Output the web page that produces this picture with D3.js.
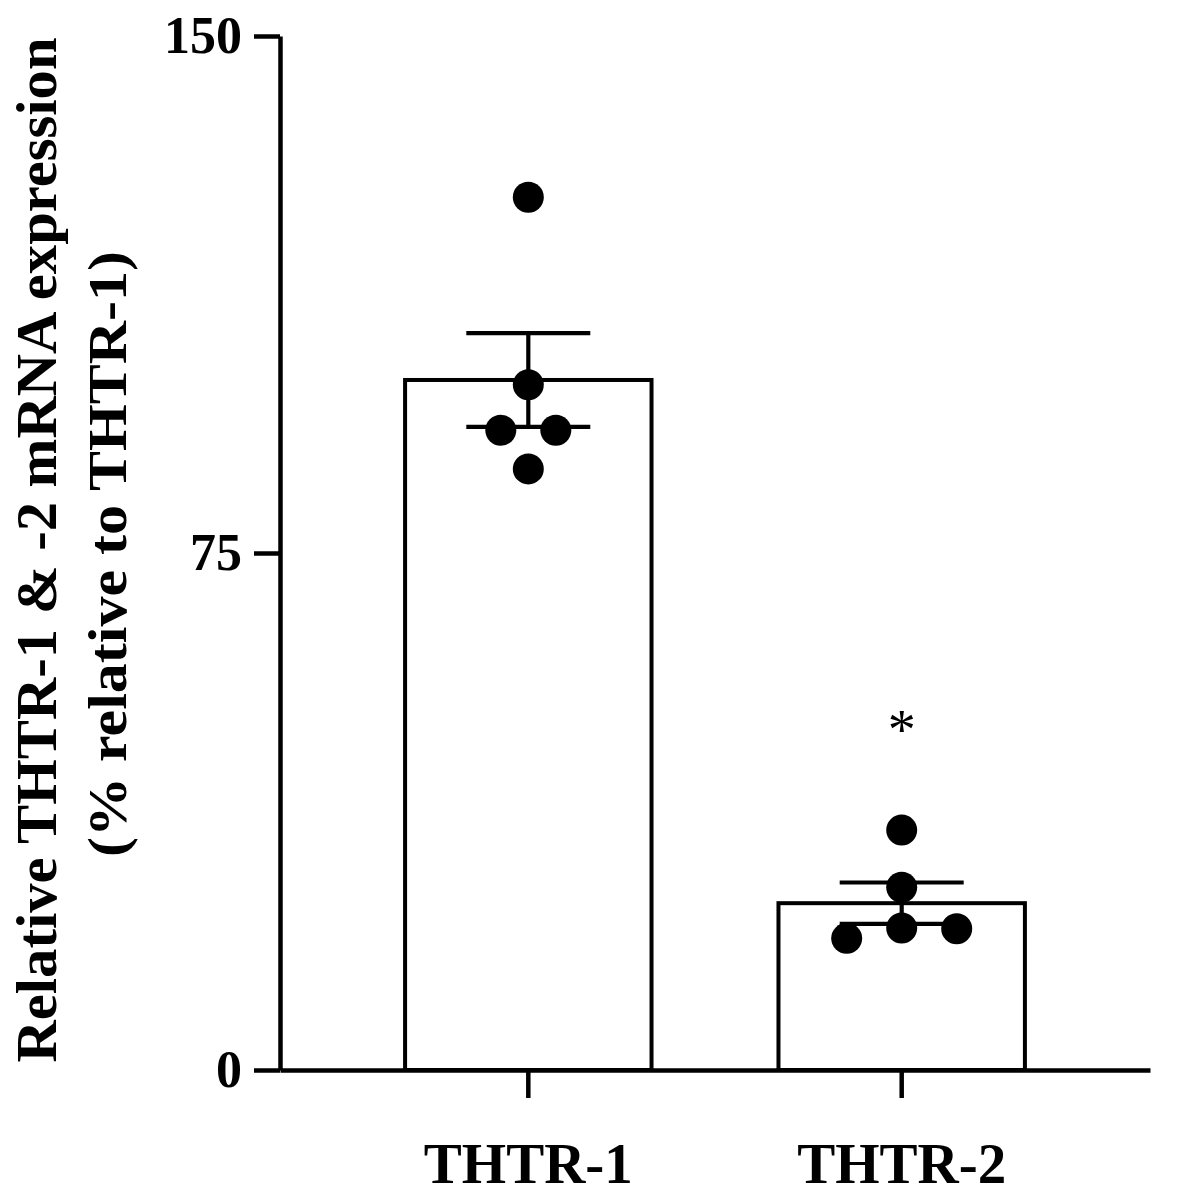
<!DOCTYPE html>
<html>
<head>
<meta charset="utf-8">
<script src="https://cdn.jsdelivr.net/npm/d3@7"></script>
<style>
  body { margin: 0; background: #fff; }
  text { font-family: "Liberation Serif", "Times New Roman", serif; font-weight: bold; }
</style>
</head>
<body>
<svg class="chart" width="1178" height="1200"></svg>
<script>
// values
let groups = ['THTR-1', 'THTR-2']
let means = [100.1, 24.2]
let sems = [6.8, 3.0]
let points = [
  [126.6, 99.4, 92.8, 92.8, 87.2],
  [34.8, 26.5, 19.1, 20.6, 20.5]
]
// horizontal slot of each dot (prism style spreading)
let slots = [
  [0, 0, -1, 1, 0],
  [0, 0, -2, 0, 2]
]
let yTicks = [0, 75, 150]
let stars = ['', '*']
let starAt = [null, 50]

let svg = d3.select('.chart')

let x = d3.scaleBand().domain(groups).range([280, 1150]).paddingInner(0.34).paddingOuter(0.335)
let y = d3.scaleLinear().domain([0, 150]).range([1070, 36])

// axes
let yAxis = svg.append('g')
    .attr('transform', 'translate(280,0)')
    .call(d3.axisLeft(y).tickValues(yTicks).tickSize(26).tickSizeOuter(0).tickPadding(12))

let xAxis = svg.append('g')
    .attr('transform', 'translate(0,1070)')
    .call(d3.axisBottom(x).tickSize(28).tickSizeOuter(0).tickPadding(45))

svg.selectAll('.domain, .tick line').attr('stroke', '#000').attr('stroke-width', 4.5)
yAxis.selectAll('.tick text').attr('font-size', 52).attr('fill', '#000')
    .attr('font-family', '"Liberation Serif", serif').attr('font-weight', 'bold')
xAxis.selectAll('.tick text').attr('font-size', 57).attr('fill', '#000')
    .attr('font-family', '"Liberation Serif", serif').attr('font-weight', 'bold')

// bars
let cx = (d) => x(d) + x.bandwidth() / 2

svg.selectAll('.bar')
    .data(groups)
    .enter()
    .append('rect')
    .attr('class', 'bar')
    .attr('x', (d) => x(d))
    .attr('y', (d, i) => y(means[i]))
    .attr('width', x.bandwidth())
    .attr('height', (d, i) => y(0) - y(means[i]))
    .attr('fill', '#fff')
    .attr('stroke', '#000')
    .attr('stroke-width', 4)

// error bars (mean +/- sem)
let capHalf = 62
groups.forEach(function (g, i) {
  let e = svg.append('g').attr('stroke', '#000').attr('stroke-width', 4.2)
  e.append('line')
      .attr('x1', cx(g)).attr('x2', cx(g))
      .attr('y1', y(means[i] - sems[i])).attr('y2', y(means[i] + sems[i]))
  ;[means[i] - sems[i], means[i] + sems[i]].forEach(function (v) {
    e.append('line')
        .attr('x1', cx(g) - capHalf).attr('x2', cx(g) + capHalf)
        .attr('y1', y(v)).attr('y2', y(v))
  })
})

// individual points
let r = 15.5
groups.forEach(function (g, i) {
  svg.selectAll('.dot-' + i)
      .data(points[i])
      .enter()
      .append('circle')
      .attr('class', 'dot-' + i)
      .attr('cx', (d, j) => cx(g) + slots[i][j] * 27.5)
      .attr('cy', (d) => y(d))
      .attr('r', r)
      .attr('fill', '#000')
})

// significance marks
groups.forEach(function (g, i) {
  if (!stars[i]) return
  svg.append('text')
      .attr('x', cx(g))
      .attr('y', y(starAt[i]) + 24)
      .attr('text-anchor', 'middle')
      .attr('font-size', 56)
      .style('font-weight', 'normal')
      .text(stars[i])
})

// y label
svg.append('text')
    .attr('transform', 'translate(56,550) rotate(-90)')
    .attr('text-anchor', 'middle')
    .attr('font-size', 56)
    .attr('textLength', 1025)
    .attr('lengthAdjust', 'spacingAndGlyphs')
    .text('Relative THTR-1 & -2 mRNA expression')

svg.append('text')
    .attr('transform', 'translate(126,554) rotate(-90)')
    .attr('text-anchor', 'middle')
    .attr('font-size', 54)
    .attr('textLength', 606)
    .attr('lengthAdjust', 'spacingAndGlyphs')
    .text('(% relative to THTR-1)')
</script>
</body>
</html>
